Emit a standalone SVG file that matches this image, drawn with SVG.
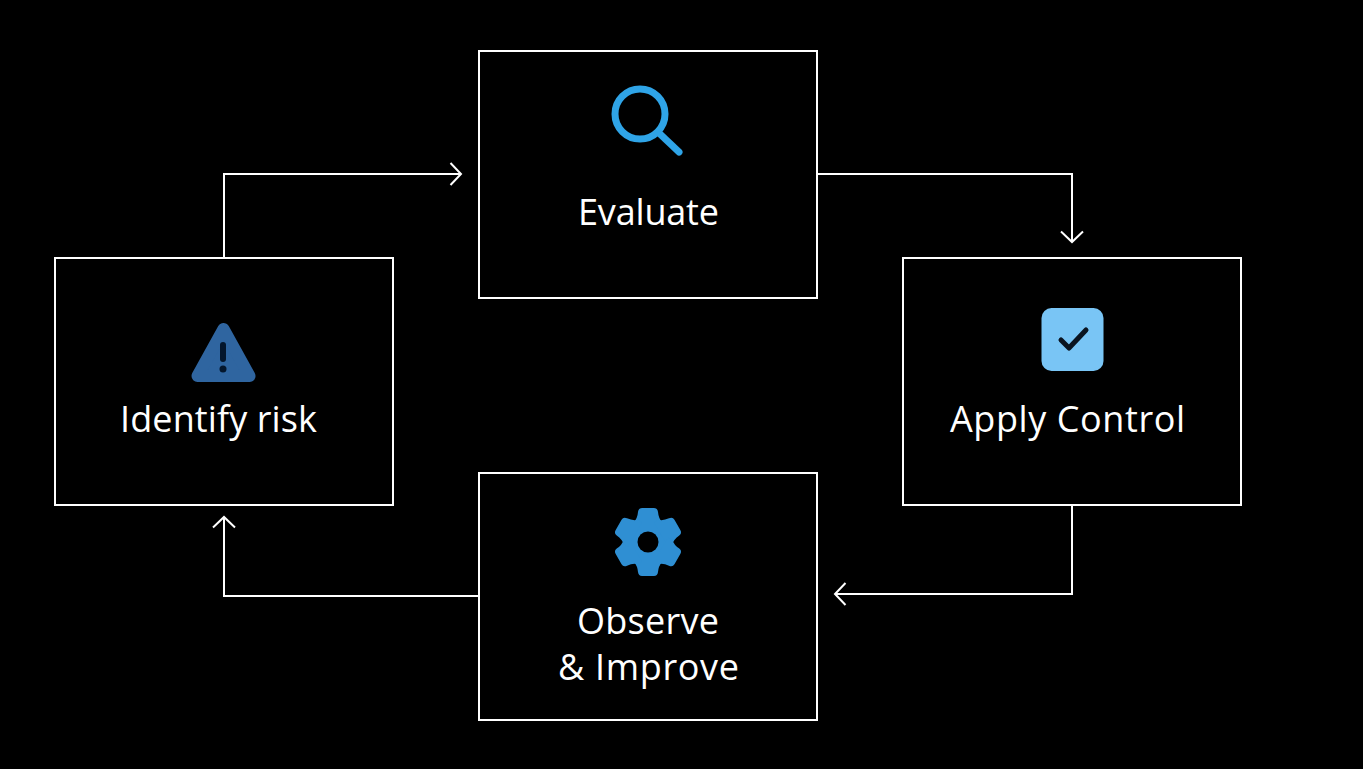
<svg xmlns="http://www.w3.org/2000/svg" xmlns:xlink="http://www.w3.org/1999/xlink" width="1363" height="769" viewBox="0 0 1363 769">
<style>
.box{fill:#000;stroke:#fff;stroke-width:2}
.lbl{fill:#fff;font-family:"Open Sans","Noto Sans","Liberation Sans",sans-serif;font-size:36px;text-anchor:middle}
.conn{fill:none;stroke:#fff;stroke-width:2}
</style>
<defs>
<marker id="arrow" markerUnits="userSpaceOnUse" markerWidth="30" markerHeight="30" refX="12" refY="12" orient="auto" overflow="visible">
<path d="M1.5 1 L12 12 L1.500 23" fill="none" stroke="#fff" stroke-width="2"/>
</marker>
<path id="tooth" d="M-14 -15V-20Q-10.500 -24 -10 -30Q-9.500 -34 -6 -34H6Q9.500 -34 10 -30Q10.500 -24 14 -20V-15Z"/>
</defs>
<rect width="1363" height="769" fill="#000"/>
<g id="connectors">
<path class="conn" d="M224 258V174H461" marker-end="url(#arrow)"/>
<path class="conn" d="M818 174H1072V242" marker-end="url(#arrow)"/>
<path class="conn" d="M1072 505V594H835" marker-end="url(#arrow)"/>
<path class="conn" d="M479 596H224V517" marker-end="url(#arrow)"/>
</g>
<g id="identify-risk">
<rect class="box" x="55" y="258" width="338" height="247"/>
<path d="M223.500 329 L249.500 376 H197.500 Z" fill="#2f65a0" stroke="#2f65a0" stroke-width="12" stroke-linejoin="round"/>
<path d="M223 345V359" stroke="#04162c" stroke-width="6" stroke-linecap="round" fill="none"/>
<circle cx="223" cy="369" r="3.500" fill="#04162c"/>
<text class="lbl" x="218.500" y="432" textLength="197">Identify risk</text>
</g>
<g id="evaluate">
<rect class="box" x="479" y="51" width="338" height="247"/>
<circle cx="640" cy="114" r="25" fill="none" stroke="#2fa4e7" stroke-width="7"/>
<path d="M660 134L679 152" fill="none" stroke="#2fa4e7" stroke-width="7" stroke-linecap="round"/>
<text class="lbl" x="648.500" y="225" textLength="141">Evaluate</text>
</g>
<g id="apply-control">
<rect class="box" x="903" y="258" width="338" height="247"/>
<rect x="1041.500" y="308" width="62" height="63" rx="10" fill="#79c5f5"/>
<path d="M1061 340L1069 348L1086 330" fill="none" stroke="#0a1420" stroke-width="5" stroke-linecap="round" stroke-linejoin="round"/>
<text class="lbl" x="1067.500" y="432" textLength="235">Apply Control</text>
</g>
<g id="observe-improve">
<rect class="box" x="479" y="473" width="338" height="247"/>
<g fill="#2f8fd3" transform="translate(648 542)">
<circle r="25"/>
<use href="#tooth"/>
<use href="#tooth" transform="rotate(60)"/>
<use href="#tooth" transform="rotate(120)"/>
<use href="#tooth" transform="rotate(180)"/>
<use href="#tooth" transform="rotate(240)"/>
<use href="#tooth" transform="rotate(300)"/>
<circle r="10.500" fill="#000"/>
</g>
<text class="lbl" x="648" y="634" textLength="142">Observe</text>
<text class="lbl" x="648.500" y="680" textLength="181">&amp; Improve</text>
</g>
</svg>
